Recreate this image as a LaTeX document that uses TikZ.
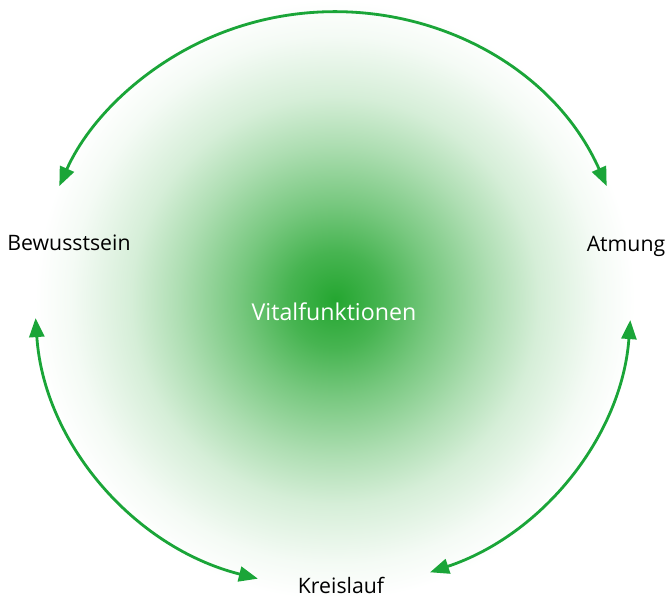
\documentclass[tikz,border=0pt]{standalone}
\usepackage{fontspec}
\setmainfont{Open Sans}
\usetikzlibrary{calc,arrows.meta}
\definecolor{vgreen}{RGB}{26,165,56}
\definecolor{vcore}{RGB}{36,166,48}
\pgfdeclareradialshading{vitalglow}{\pgfpoint{0bp}{0bp}}{%
  color(0bp)=(vcore);
  color(4bp)=(vcore!84!white);
  color(8bp)=(vcore!62!white);
  color(13bp)=(vcore!37!white);
  color(17bp)=(vcore!19!white);
  color(22bp)=(vcore!5!white);
  color(25bp)=(white);
  color(50bp)=(white)}
\tikzset{
  label/.style={font=\fontsize{12.1}{15}\selectfont, inner sep=1pt},
  cycle/.style={draw=vgreen, line width=1.6pt,
    {Triangle[length=3.8mm, width=3mm]}-{Triangle[length=3.8mm, width=3mm]}}
}
\begin{document}
\begin{tikzpicture}[x=0.02cm, y=0.02cm]
\useasboundingbox (0,0) rectangle (667,597);
\coordinate (ctr) at (333,297);
\shade[shading=vitalglow] (335,297) circle (300);
\node[label, text=white, font=\fontsize{13.2}{15}\selectfont] (vital) at (334,285) {Vitalfunktionen};
\node[label] (bew) at (69,354) {Bewusstsein};
\node[label] (atm) at (626,351) {Atmung};
\node[label] (kreis) at (341,12) {Kreislauf};
\coordinate (t-r) at ($(ctr)+(23.3:298 and 288)$);
\coordinate (l-t) at ($(ctr)+(183.6:298 and 288)$);
\coordinate (r-b) at ($(ctr)+(289:298 and 288)$);
\draw[cycle] (t-r) arc[start angle=23.3, end angle=156.7, x radius=298, y radius=288];
\draw[cycle] (l-t) arc[start angle=183.6, end angle=255.4, x radius=298, y radius=288];
\draw[cycle] (r-b) arc[start angle=289, end angle=356, x radius=298, y radius=288];
\end{tikzpicture}
\end{document}
